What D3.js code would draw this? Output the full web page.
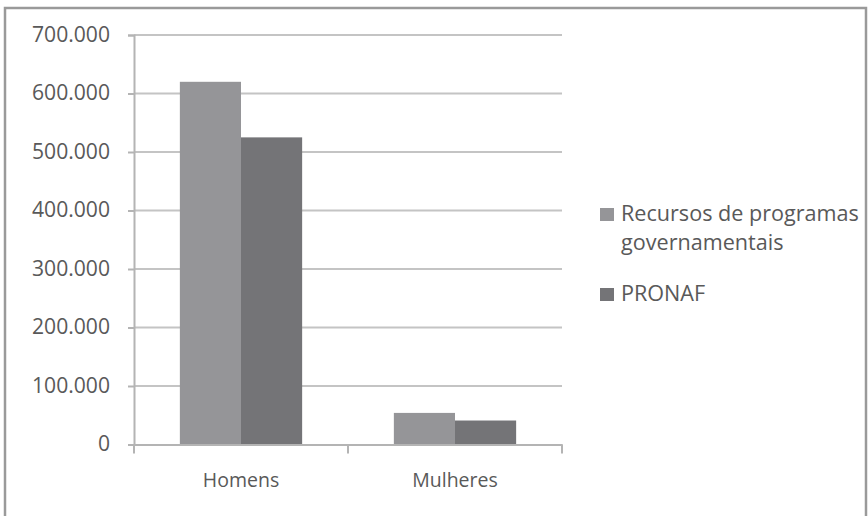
<!DOCTYPE html>
<html><head><meta charset="utf-8">
<script src="https://cdn.jsdelivr.net/npm/d3@7"></script>
<style>body{margin:0;background:#fff}svg{display:block}text{font-family:"Open Sans",Lato,sans-serif;fill:#595959}</style>
</head><body><svg id="c" width="868" height="516"></svg>
<script>
const categories = ["Homens", "Mulheres"];
const seriesNames = ["Recursos de programas governamentais", "PRONAF"];
const recursos = [620000, 54000];
const pronaf = [525000, 41000];
const yTicks = [0, 100000, 200000, 300000, 400000, 500000, 600000, 700000];
const colors = ["#959598", "#747477"];

const svg = d3.select("#c");
svg.append("rect").attr("x",5).attr("y",8).attr("width",861).attr("height",520)
  .attr("fill","#fff").attr("stroke","#9a9a9a").attr("stroke-width",2.5);

function fitSize(str, target) {
  const t = svg.append("text").attr("font-size", 20).text(str);
  const w = t.node().getComputedTextLength();
  t.remove();
  return 20 * target / w;
}
const tickFS = fitSize("700.000", 78);
const catFS = 19.5;
const legFS = fitSize("Recursos de programas", 238);

const x0 = 134, x1 = 562, yTop = 35, yBot = 444.5;
const x = d3.scaleBand().domain(categories).range([x0, x1]).paddingInner(0).paddingOuter(0);
const y = d3.scaleLinear().domain([0, 700000]).range([yBot, yTop]);
const fmt = v => d3.format(",")(v).replace(/,/g, ".");

svg.append("g").selectAll("line").data(yTicks.filter(d=>d>0)).join("line")
  .attr("x1", x0).attr("x2", x1).attr("y1", d=>y(d)).attr("y2", d=>y(d))
  .attr("stroke","#c4c4c4").attr("stroke-width",2);

const data = [recursos, pronaf];
const barW = x.bandwidth() / (2 + 1.5);
categories.forEach((c, i) => {
  data.forEach((s, j) => {
    const bx = x(c) + barW * 0.75 + j * barW;
    svg.append("rect").attr("x", bx).attr("y", y(s[i])).attr("width", barW)
      .attr("height", y(0) - y(s[i])).attr("fill", colors[j]);
  });
});

const yAxis = d3.axisLeft(y).tickValues(yTicks).tickFormat(fmt).tickSize(6).tickPadding(18);
const gy = svg.append("g").attr("transform", `translate(${x0},0)`).call(yAxis);
gy.select(".domain").attr("stroke","#b4b4b4").attr("stroke-width",2);
gy.selectAll(".tick line").attr("stroke","#b4b4b4").attr("stroke-width",2);
gy.selectAll("text").attr("font-size",tickFS).attr("fill","#595959").attr("dy","0.3em")
  .style("font-family","'Open Sans', Lato, sans-serif");

const xAxis = d3.axisBottom(x).tickSize(0).tickPadding(29);
const gx = svg.append("g").attr("transform", `translate(0,${yBot})`).call(xAxis);
gx.select(".domain").attr("stroke","#b4b4b4").attr("stroke-width",2);
gx.selectAll("text").attr("font-size",catFS).attr("fill","#595959")
  .style("font-family","'Open Sans', Lato, sans-serif");
svg.append("g").selectAll("line").data([x0, x0 + x.bandwidth(), x1]).join("line")
  .attr("x1", d=>d).attr("x2", d=>d).attr("y1", yBot).attr("y2", yBot + 9)
  .attr("stroke","#b4b4b4").attr("stroke-width",2);

const lg = svg.append("g");
const legendItems = [
  {lines:["Recursos de programas","governamentais"], color: colors[0], y: 208},
  {lines:["PRONAF"], color: colors[1], y: 288}
];
legendItems.forEach(it => {
  lg.append("rect").attr("x",600).attr("y",it.y).attr("width",14).attr("height",13).attr("fill",it.color);
  const t = lg.append("text").attr("x",621).attr("y",it.y+13).attr("font-size",legFS);
  it.lines.forEach((l,k)=> t.append("tspan").attr("x",621).attr("dy", k===0?0:29).text(l));
});
</script></body></html>
